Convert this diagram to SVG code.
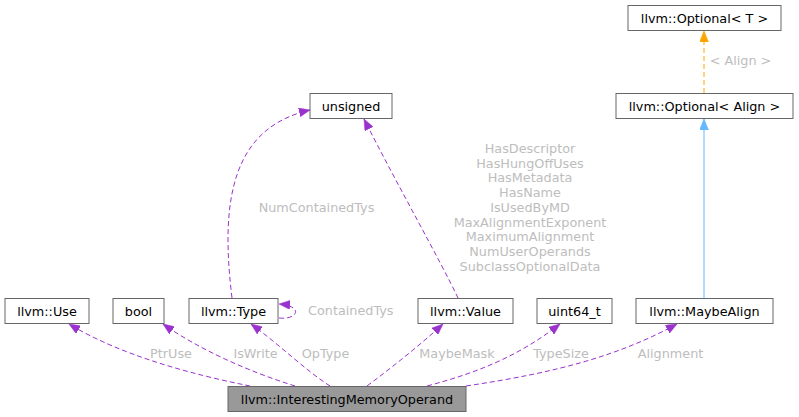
<svg xmlns="http://www.w3.org/2000/svg" width="799" height="417" viewBox="0 0 799 417">
<style>
  .node rect { fill: #ffffff; stroke: #666666; stroke-width: 1; }
  .node.main rect { fill: #999999; }
  .node text { font-family: "DejaVu Sans", sans-serif; font-size: 12.8px; fill: #000; text-anchor: middle; }
  .edge { fill: none; stroke: #9a32cd; stroke-width: 1; stroke-dasharray: 5,3; }
  .lbl { font-family: "DejaVu Sans", sans-serif; font-size: 12.8px; fill: #bdbdbd; text-anchor: middle; }
</style>
<defs>
  <marker id="ap" markerUnits="userSpaceOnUse" markerWidth="12" markerHeight="9" refX="11" refY="4.5" orient="auto">
    <path d="M0,0 L11,4.5 L0,9 z" fill="#9a32cd" stroke="#9a32cd" stroke-width="0.5"/>
  </marker>
  <marker id="ao" markerUnits="userSpaceOnUse" markerWidth="12" markerHeight="9" refX="11" refY="4.5" orient="auto">
    <path d="M0,0 L11,4.5 L0,9 z" fill="#ffa500" stroke="#ffa500" stroke-width="0.5"/>
  </marker>
  <marker id="ab" markerUnits="userSpaceOnUse" markerWidth="12" markerHeight="9" refX="11" refY="4.5" orient="auto">
    <path d="M0,0 L11,4.5 L0,9 z" fill="#63b8ff" stroke="#63b8ff" stroke-width="0.5"/>
  </marker>
</defs>
<rect width="799" height="417" fill="#ffffff"/>
<g id="edges">
  <path class="edge" d="M250,386 C190,374 120,355 69,324" marker-end="url(#ap)"/>
  <path class="edge" d="M295,386 C250,372 200,350 163,324" marker-end="url(#ap)"/>
  <path class="edge" d="M330,386 C305,370 280,345 251,324" marker-end="url(#ap)"/>
  <path class="edge" d="M367,386 C395,365 420,345 443,324" marker-end="url(#ap)"/>
  <path class="edge" d="M427,386 C480,372 520,355 560,324" marker-end="url(#ap)"/>
  <path class="edge" d="M466,386 C560,372 620,355 677,324" marker-end="url(#ap)"/>
  <path class="edge" d="M232,298 C220,200 232,128 310,110" marker-end="url(#ap)"/>
  <path class="edge" d="M458,298 C440,260 400,190 364,119" marker-end="url(#ap)"/>
  <path class="edge" d="M279,318 C298,320 304,306 279,304" marker-end="url(#ap)"/>
  <path d="M704,93 L704,31" fill="none" stroke="#ffa500" stroke-dasharray="5,3" marker-end="url(#ao)"/>
  <path d="M704,298 L704,119" fill="none" stroke="#63b8ff" marker-end="url(#ab)"/>
  <text class="lbl" x="171" y="358">PtrUse</text>
  <text class="lbl" x="255.5" y="358">IsWrite</text>
  <text class="lbl" x="325.5" y="358">OpType</text>
  <text class="lbl" x="457" y="358">MaybeMask</text>
  <text class="lbl" x="561" y="358">TypeSize</text>
  <text class="lbl" x="670.5" y="358">Alignment</text>
  <text class="lbl" x="316.5" y="212">NumContainedTys</text>
  <text class="lbl" x="308" y="315" style="text-anchor:start">ContainedTys</text>
  <text class="lbl" x="740.5" y="65">&lt; Align &gt;</text>
  <text class="lbl" x="530" y="153">HasDescriptor</text>
  <text class="lbl" x="530" y="167.7">HasHungOffUses</text>
  <text class="lbl" x="530" y="182.4">HasMetadata</text>
  <text class="lbl" x="530" y="197.1">HasName</text>
  <text class="lbl" x="530" y="211.8">IsUsedByMD</text>
  <text class="lbl" x="530" y="226.5">MaxAlignmentExponent</text>
  <text class="lbl" x="530" y="241.2">MaximumAlignment</text>
  <text class="lbl" x="530" y="255.9">NumUserOperands</text>
  <text class="lbl" x="530" y="270.6">SubclassOptionalData</text>
</g>
<g id="n_imo" class="node main"><rect x="228" y="386.5" width="238" height="25"/><text x="347" y="403.5">llvm::InterestingMemoryOperand</text></g>
<g id="n_use" class="node"><rect x="5" y="298.5" width="84" height="25"/><text x="47" y="315.5">llvm::Use</text></g>
<g id="n_bool" class="node"><rect x="113" y="298.5" width="51" height="25"/><text x="138.5" y="315.5">bool</text></g>
<g id="n_type" class="node"><rect x="189" y="298.5" width="89" height="25"/><text x="233.5" y="315.5">llvm::Type</text></g>
<g id="n_value" class="node"><rect x="418" y="298.5" width="95" height="25"/><text x="465.5" y="315.5">llvm::Value</text></g>
<g id="n_uint64" class="node"><rect x="537" y="298.5" width="75" height="25"/><text x="574.5" y="315.5">uint64_t</text></g>
<g id="n_maybealign" class="node"><rect x="636" y="298.5" width="137" height="25"/><text x="704.5" y="315.5">llvm::MaybeAlign</text></g>
<g id="n_unsigned" class="node"><rect x="310" y="93.5" width="82" height="25"/><text x="351" y="110.5">unsigned</text></g>
<g id="n_optalign" class="node"><rect x="616" y="93.5" width="177" height="25"/><text x="704.5" y="110.5">llvm::Optional&lt; Align &gt;</text></g>
<g id="n_optT" class="node"><rect x="628" y="5.5" width="153" height="25"/><text x="704.5" y="22.5">llvm::Optional&lt; T &gt;</text></g>
</svg>
